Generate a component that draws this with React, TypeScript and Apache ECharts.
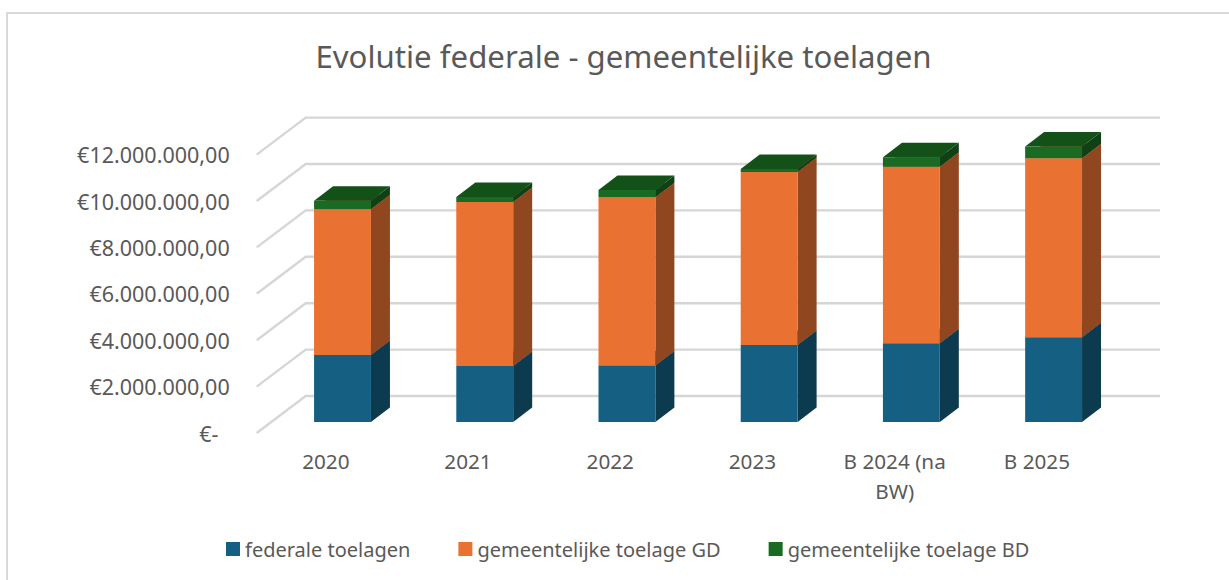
import React, { useEffect, useRef } from "react";
import * as echarts from "echarts";

const categories = ["2020", "2021", "2022", "2023", "B 2024 (na\nBW)", "B 2025"];
const federaleToelagen = [2890000, 2410000, 2440000, 3320000, 3390000, 3650000];
const toelageGD = [6280000, 7070000, 7250000, 7460000, 7610000, 7720000];
const toelageBD = [370000, 220000, 310000, 120000, 410000, 500000];
const gridTicks = [0, 2000000, 4000000, 6000000, 8000000, 10000000, 12000000];
const tickLabels = [
  "€-\u00A0\u00A0",
  "€2.000.000,00",
  "€4.000.000,00",
  "€6.000.000,00",
  "€8.000.000,00",
  "€10.000.000,00",
  "€12.000.000,00",
];
const FONT = "Noto Sans";

// projection of the pseudo-3D chart
const WALL_DX = 49;
const WALL_DY = -37;
const WALL_RIGHT = 1160;
const BAR_SHIFT_X = 14.7;
const BAR_SHIFT_Y = -11;
const BAR_DX = 19;
const BAR_DY = -14.5;
const BAR_RATIO = 0.4;

function stackSeries(
  name: string,
  values: number[],
  bases: number[],
  front: string,
  side: string,
  top: string
) {
  return {
    name,
    type: "custom",
    z: 3,
    itemStyle: { color: front },
    encode: { x: 0, y: [1, 2] },
    data: values.map((v, i) => [i, bases[i], bases[i] + v]),
    renderItem: (_params: any, api: any) => {
      const i = api.value(0);
      const lo = api.coord([i, api.value(1)]);
      const hi = api.coord([i, api.value(2)]);
      const w = api.size([1, 0])[0] * BAR_RATIO;
      const xl = lo[0] - w / 2 + BAR_SHIFT_X;
      const xr = xl + w;
      const yb = lo[1] + BAR_SHIFT_Y;
      const yt = hi[1] + BAR_SHIFT_Y;
      return {
        type: "group",
        children: [
          {
            type: "polygon",
            shape: { points: [[xr, yb], [xr + BAR_DX, yb + BAR_DY], [xr + BAR_DX, yt + BAR_DY], [xr, yt]] },
            style: { fill: side },
          },
          {
            type: "polygon",
            shape: { points: [[xl, yt], [xr, yt], [xr + BAR_DX, yt + BAR_DY], [xl + BAR_DX, yt + BAR_DY]] },
            style: { fill: top },
          },
          {
            type: "polygon",
            shape: { points: [[xl, yb], [xr, yb], [xr, yt], [xl, yt]] },
            style: { fill: front },
          },
        ],
      };
    },
  };
}

export default function App() {
  const ref = useRef<HTMLDivElement>(null);
  useEffect(() => {
    const chart = echarts.init(ref.current!, undefined, { renderer: "svg" });
    const baseGD = federaleToelagen;
    const baseBD = federaleToelagen.map((v, i) => v + toelageGD[i]);
    const zeros = federaleToelagen.map(() => 0);
    chart.setOption({
      animation: false,
      backgroundColor: "#ffffff",
      textStyle: { fontFamily: FONT },
      title: {
        text: "Evolutie federale - gemeentelijke toelagen",
        left: 618.5,
        top: 35,
        textAlign: "center",
        textStyle: { fontFamily: FONT, fontSize: 31.2, fontWeight: "normal", color: "#595959" },
      },
      legend: {
        left: 221,
        top: 534,
        icon: "rect",
        itemWidth: 14,
        itemHeight: 14,
        itemGap: 48,
        data: ["federale toelagen", "gemeentelijke toelage GD", "gemeentelijke toelage BD"],
        textStyle: { fontFamily: FONT, fontSize: 20, color: "#595959" },
      },
      grid: { left: 256.7, top: 154.6, width: 853.3, height: 278.4 },
      xAxis: {
        type: "category",
        data: categories,
        axisLine: { show: false },
        axisTick: { show: false },
        axisLabel: {
          interval: 0,
          margin: 13,
          padding: [0, 4, 0, 0],
          fontFamily: FONT,
          fontSize: 20.7,
          lineHeight: 30,
          color: "#595959",
        },
      },
      yAxis: {
        type: "value",
        min: 0,
        max: 12000000,
        interval: 2000000,
        splitLine: { show: false },
        axisLine: { show: false },
        axisTick: { show: false },
        axisLabel: {
          margin: 27,
          fontFamily: FONT,
          fontSize: 21.5,
          color: "#595959",
          formatter: (v: number) => tickLabels[gridTicks.indexOf(v)],
        },
      },
      graphic: [
        {
          type: "polyline",
          shape: { points: [[7, 580], [7, 13], [1229, 13]] },
          style: { stroke: "#D9D9D9", lineWidth: 2, fill: "none" },
        },
      ],
      series: [
        {
          type: "custom",
          name: "wall",
          z: 1,
          silent: true,
          encode: { y: 1 },
          data: gridTicks.map((t) => [0, t]),
          renderItem: (params: any, api: any) => {
            const x0 = params.coordSys.x;
            const y = api.coord([0, api.value(1)])[1];
            return {
              type: "polyline",
              shape: { points: [[x0, y], [x0 + WALL_DX, y + WALL_DY], [WALL_RIGHT, y + WALL_DY]] },
              style: { stroke: "#D6D6D6", lineWidth: 2.4, fill: "none" },
            };
          },
        },
        stackSeries("federale toelagen", federaleToelagen, zeros, "#156082", "#0C3A4E", "#0F4A64"),
        stackSeries("gemeentelijke toelage GD", toelageGD, baseGD, "#E97132", "#90461E", "#B55826"),
        stackSeries("gemeentelijke toelage BD", toelageBD, baseBD, "#196B24", "#0F4016", "#135119"),
      ],
    });
    return () => chart.dispose();
  }, []);
  return (
    <div
      ref={ref}
      style={{ position: "fixed", left: 0, top: 0, width: 1229, height: 580 }}
    />
  );
}
